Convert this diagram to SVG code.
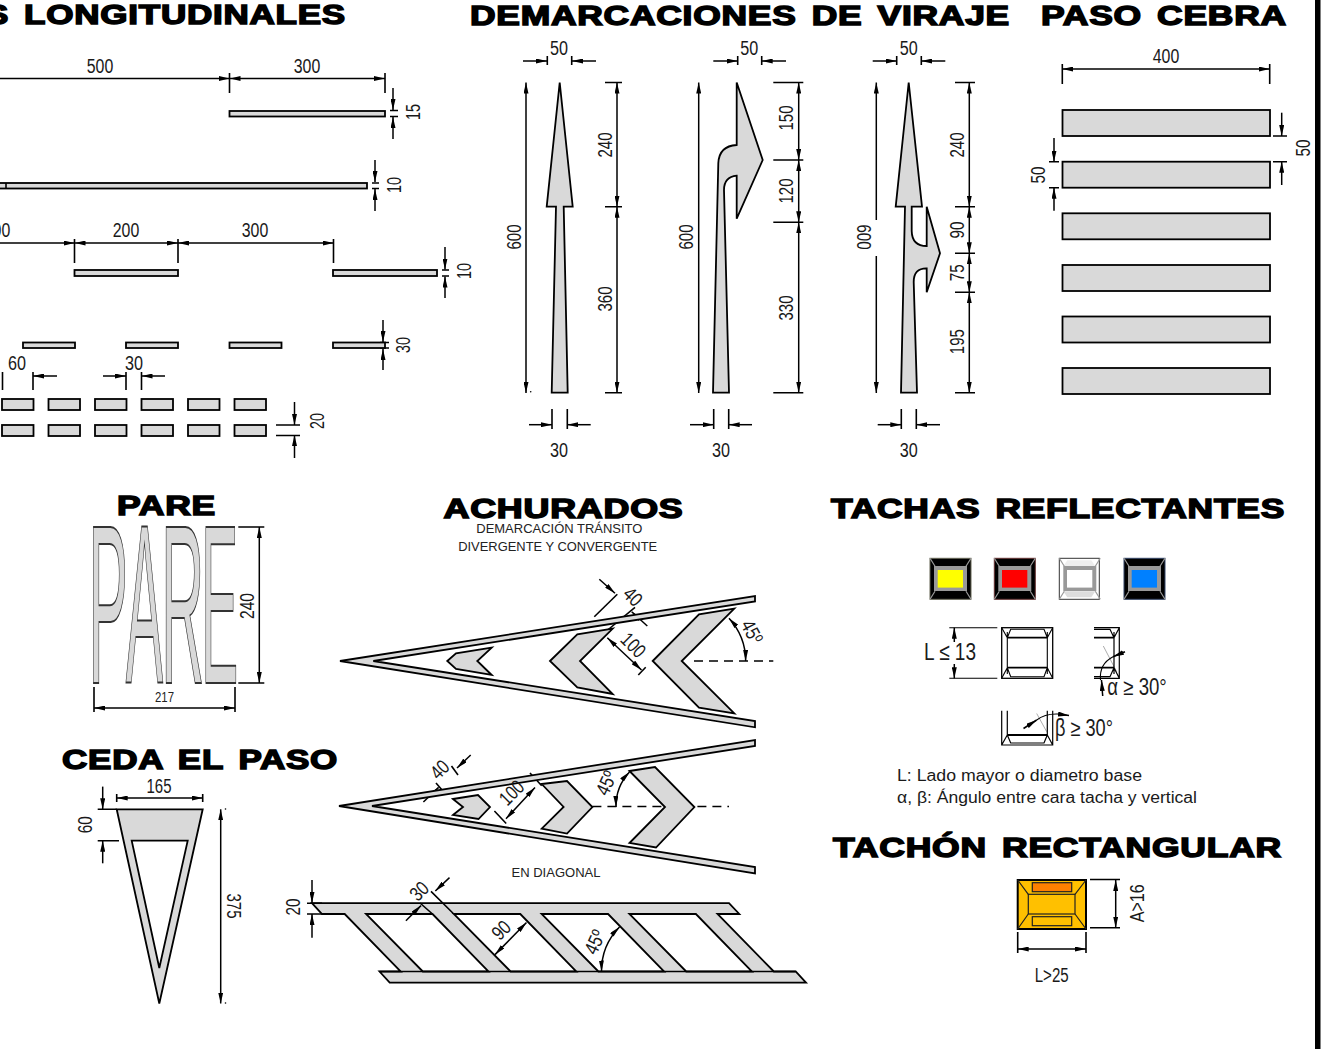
<svg xmlns="http://www.w3.org/2000/svg" width="1325" height="1049" viewBox="0 0 1325 1049">
<style>
text{font-family:"Liberation Sans",Arial,sans-serif;fill:#1a1a1a}
.t{font-size:27.5px;font-weight:700;fill:#000;stroke:#000;stroke-width:1.5px;word-spacing:3.500px;letter-spacing:.6px}
.d{font-size:20px;text-anchor:middle}
.s{font-size:14px;text-anchor:middle;fill:#222}
.g{fill:#d9d9d9;stroke:#000;stroke-width:1.8px;stroke-linejoin:miter}
.l{fill:none;stroke:#000;stroke-width:1.6px}
.m{fill:none;stroke:#000;stroke-width:1.5px;marker-end:url(#a)}
.b{fill:none;stroke:#000;stroke-width:1.5px;marker-end:url(#a);marker-start:url(#a)}
.dash{fill:none;stroke:#000;stroke-width:1.4px;stroke-dasharray:9 6}
.thin{fill:none;stroke:#888;stroke-width:.7px}
.w{fill:none;stroke:#000;stroke-width:1.1px}
.big{font-size:100px;fill:#d9d9d9;stroke:#333;stroke-width:.9px}
.rg{fill:#999}
</style>
<defs>
<marker id="a" viewBox="0 0 10 4" refX="10" refY="2" markerWidth="11" markerHeight="5" markerUnits="userSpaceOnUse" orient="auto-start-reverse" preserveAspectRatio="none"><path d="M0 0L10 2L0 4z" fill="#000"/></marker>
<g id="tc"><path d="M0 0L5 8M41 0L36 8M0 41L5 33M41 41L36 33" stroke="#999" stroke-width="1.2"/></g>
</defs>
<rect width="1325" height="1049" fill="#fff"/>
<rect x="1315" y="0" width="5.500" height="1049" fill="#000"/>

<g id="connectors">
<path class="m" d="M0 78.500H229.500"/><path class="b" d="M229.500 78.500H385"/><path class="l" d="M229.500 73V93M385 73V93"/>
<path class="m" d="M393 88V110"/><path class="m" d="M393 139V117"/><path class="l" d="M390 110.500H398M390 116.500H398"/>
<path class="m" d="M375 160V182"/><path class="m" d="M375 211V189"/><path class="l" d="M372 183H379M372 188.500H379"/>
<path class="m" d="M0 243H74.500"/><path class="b" d="M74.500 243H178"/><path class="b" d="M178 243H333.500"/><path class="l" d="M74.500 239V263M178 239V263M333.500 239V263"/>
<path class="m" d="M445 247V269.500"/><path class="m" d="M445 298V276.500"/><path class="l" d="M442 270H449M442 276H449"/>
<path class="m" d="M383 320V342"/><path class="m" d="M383 370V349"/><path class="l" d="M380 342.500H389M380 348H389"/>
<path class="m" d="M57 376H33"/><path class="m" d="M103 376H126"/><path class="m" d="M165 376H141.500"/><path class="l" d="M2.500 372V390M33 372V390M126 372V390M141.500 372V390"/>
<path class="m" d="M294.500 402V425"/><path class="m" d="M294.500 458V435"/><path class="l" d="M276 425H300M276 435.500H300"/>
<path class="m" d="M523 61H547"/><path class="m" d="M596 61H572"/><path class="l" d="M547.300 56V65M571.700 56V65"/>
<path class="b" d="M526 82.500V393"/><path class="b" d="M617 82.500V206.700"/><path class="b" d="M617 206.700V392.700"/><path class="l" d="M605 82.500H622M605 206.700H622M605 392.700H622"/>
<path class="m" d="M529 424.700H552"/><path class="m" d="M590.700 424.700H567.300"/><path class="l" d="M552 409V429M567.300 409V429"/>
<path class="m" d="M713.300 61H737.700"/><path class="m" d="M786 61H761.700"/><path class="l" d="M737.700 56V65M761.700 56V65"/>
<path class="b" d="M698.700 82.500V393"/><path class="b" d="M798.700 82.500V160"/><path class="b" d="M798.700 160V222.300"/><path class="b" d="M798.700 222.300V392.700"/><path class="l" d="M773.300 82.500H803.300M773.300 160H803.300M773.300 222.300H803.300M773.300 392.700H803.300"/>
<path class="m" d="M690 424.700H713.700"/><path class="m" d="M752 424.700H728.700"/><path class="l" d="M713.700 409V429M728.700 409V429"/>
<path class="m" d="M872.700 61H896.700"/><path class="m" d="M945.300 61H921.300"/><path class="l" d="M896.700 56V65M921.300 56V65"/>
<path class="m" d="M876.300 220V82.500"/><path class="m" d="M876.300 256V393"/><path class="b" d="M969.300 82.500V206.700"/><path class="b" d="M969.300 206.700V253.300"/><path class="b" d="M969.300 253.300V292.300"/><path class="b" d="M969.300 292.300V392.700"/><path class="l" d="M955 82.500H975M955 206.700H975M955 253.300H975M955 292.300H975M955 392.700H975"/>
<path class="m" d="M877.700 424.700H901.300"/><path class="m" d="M940 424.700H916.300"/><path class="l" d="M901.300 409V429M916.300 409V429"/>
<path class="b" d="M1062.300 69H1269.700"/><path class="l" d="M1062.300 64V84M1269.700 64V84"/>
<path class="m" d="M1281.700 112.700V136"/><path class="m" d="M1281.700 185V161.700"/><path class="l" d="M1273 136H1287M1273 161.700H1287"/>
<path class="m" d="M1054 138V161.700"/><path class="m" d="M1054 210.700V187.700"/><path class="l" d="M1049 161.700H1059M1049 187.700H1059"/>
<path class="b" d="M259.300 527V683"/><path class="l" d="M238.300 527H264.300M238.300 683H264.300"/>
<path class="b" d="M94 708H235"/><path class="l" d="M94 687V712M235 687V712"/>
<path class="b" d="M116.700 798H202.700"/><path class="l" d="M116.700 794V802M202.700 794V802"/>
<path class="m" d="M102.700 786.600V809.300"/><path class="m" d="M102.700 863.300V840.700"/><path class="l" d="M97.700 809.300H116.700M97.700 840.700H119"/>
<path class="b" d="M220.700 809.300V1003.500"/>
<circle cx="225.500" cy="809" r=".8"/><circle cx="225.500" cy="1003" r=".8"/><circle cx="530.700" cy="391.700" r=".8"/>
<path class="l" d="M594.300 616.700L617.300 594.300"/><path class="m" d="M599.300 579.300L615 593.300"/><path class="l" d="M607.700 630L635 607.300"/><path class="m" d="M647.300 626L631.700 611.700"/>
<path class="b" d="M607.300 637.700L641.500 670"/><path class="l" d="M638.300 675L645.700 667.300"/>
<path class="b" d="M729 618.300A64 64 0 0 1 745.700 661"/><path class="dash" d="M694 661H773.300"/>
<path class="m" d="M470.700 755L457 768"/><path class="l" d="M451.500 766L458 775"/><path class="m" d="M423.400 802L438.600 787.400"/><path class="l" d="M436 783L442.700 790.700"/>
<path class="b" d="M506 818.800L535 787.400"/><path class="l" d="M530 773L541.700 785.700M494.400 811L506.200 823.500"/>
<path class="b" d="M629.500 772A50 50 0 0 0 616 807"/><path class="dash" d="M592.400 806.500H729"/>
<path class="m" d="M312 880V903"/><path class="m" d="M312 937.700V914"/><path class="l" d="M307 903.200H322M307 914H322"/>
<path class="m" d="M954.300 642V627.700"/><path class="m" d="M954.300 664V678.300"/><path class="w" d="M949.300 627.700H997.300M949.300 678.300H997.300"/>
<path class="m" d="M1125 651.700L1113 656.700"/><path class="thin" d="M1103.300 646L1116.700 671.700M1036.700 713.500L1046.700 731.700"/>
<path class="w" d="M1113 656.700Q1099 664 1100.500 680"/><path class="m" d="M1102.700 696L1101.500 680"/>
<path class="m" d="M1023.500 728.500L1036.700 720"/><path class="w" d="M1036.700 720Q1045 713.500 1058 714"/><path class="m" d="M1058 714L1069 715.500"/>
<path class="b" d="M1115.700 880V927.700"/><path class="l" d="M1090 879.500H1120M1090 927.700H1120"/>
<path class="b" d="M1017.700 949H1086"/><path class="l" d="M1017.700 932V953M1086 932V953"/>
</g>

<g id="longitudinales">
<text class="t" x="-15" y="24" textLength="361" lengthAdjust="spacingAndGlyphs">S LONGITUDINALES</text>
<text class="d" x="100" y="73" textLength="26.500" lengthAdjust="spacingAndGlyphs">500</text>
<text class="d" x="307" y="73" textLength="26.500" lengthAdjust="spacingAndGlyphs">300</text>
<rect class="g" x="229.500" y="111" width="155.500" height="5.500"/>
<rect class="g" x="-3" y="183" width="370" height="5.500"/><path class="l" d="M6 183V188.500"/>
<rect class="g" x="74.500" y="270" width="103.500" height="6"/><rect class="g" x="333" y="270" width="104" height="6"/>
<rect class="g" x="23" y="342.500" width="52" height="5.500"/><rect class="g" x="126" y="342.500" width="52" height="5.500"/><rect class="g" x="229.500" y="342.500" width="52" height="5.500"/><rect class="g" x="333" y="342.500" width="52" height="5.500"/>
<text class="d" x="-3" y="237" textLength="26.500" lengthAdjust="spacingAndGlyphs">300</text>
<text class="d" x="126" y="237" textLength="26.500" lengthAdjust="spacingAndGlyphs">200</text>
<text class="d" x="255" y="237" textLength="26.500" lengthAdjust="spacingAndGlyphs">300</text>
<text class="d" x="17" y="370" textLength="18" lengthAdjust="spacingAndGlyphs">60</text>
<text class="d" x="134" y="370" textLength="18" lengthAdjust="spacingAndGlyphs">30</text>
<text class="d" transform="translate(419.700 112) rotate(-90)" textLength="16" lengthAdjust="spacingAndGlyphs">15</text>
<text class="d" transform="translate(401 185) rotate(-90)" textLength="16" lengthAdjust="spacingAndGlyphs">10</text>
<text class="d" transform="translate(471 271) rotate(-90)" textLength="16" lengthAdjust="spacingAndGlyphs">10</text>
<text class="d" transform="translate(409.500 345) rotate(-90)" textLength="16" lengthAdjust="spacingAndGlyphs">30</text>
<text class="d" transform="translate(324 421) rotate(-90)" textLength="16" lengthAdjust="spacingAndGlyphs">20</text>
<g id="tramos">
<rect class="g" x="2" y="399" width="31.500" height="11"/><rect class="g" x="48.500" y="399" width="31.500" height="11"/><rect class="g" x="95" y="399" width="31.500" height="11"/><rect class="g" x="141.500" y="399" width="31.500" height="11"/><rect class="g" x="188" y="399" width="31.500" height="11"/><rect class="g" x="234.500" y="399" width="31.500" height="11"/>
<rect class="g" x="2" y="425" width="31.500" height="11"/><rect class="g" x="48.500" y="425" width="31.500" height="11"/><rect class="g" x="95" y="425" width="31.500" height="11"/><rect class="g" x="141.500" y="425" width="31.500" height="11"/><rect class="g" x="188" y="425" width="31.500" height="11"/><rect class="g" x="234.500" y="425" width="31.500" height="11"/>
</g>
</g>

<g id="viraje">
<text class="t" x="470" y="25" textLength="540" lengthAdjust="spacingAndGlyphs">DEMARCACIONES DE VIRAJE</text>
<path id="flecha1" class="g" d="M559.700 82.500L572.700 206.700H563.700L567.700 392.700H551.700L556 206.700H546.700Z"/>
<path id="flecha2" class="g" d="M736.700 82.500L762.700 160L736.700 218.700V175.700Q724 177 724 190L729 392.700H713L718.300 163.300Q719 146 736.700 145Z"/>
<path id="flecha3" class="g" d="M908.700 82.500L922 206.700H911.700V231Q912 246 926.700 246V206.700L940 253.300L926.700 292.300V268.300Q913.700 268 913.700 282L917 392.700H901L905 206.700H895.700Z"/>
<text class="d" x="559" y="55" textLength="18" lengthAdjust="spacingAndGlyphs">50</text>
<text class="d" x="749.300" y="55" textLength="18" lengthAdjust="spacingAndGlyphs">50</text>
<text class="d" x="908.700" y="55" textLength="18" lengthAdjust="spacingAndGlyphs">50</text>
<text class="d" x="559" y="456.700" textLength="18" lengthAdjust="spacingAndGlyphs">30</text>
<text class="d" x="721" y="456.700" textLength="18" lengthAdjust="spacingAndGlyphs">30</text>
<text class="d" x="908.700" y="456.700" textLength="18" lengthAdjust="spacingAndGlyphs">30</text>
<text class="d" transform="translate(521 237) rotate(-90)" textLength="25" lengthAdjust="spacingAndGlyphs">600</text>
<text class="d" transform="translate(693 237) rotate(-90)" textLength="25" lengthAdjust="spacingAndGlyphs">600</text>
<text class="d" transform="translate(857 237) rotate(90)" textLength="25" lengthAdjust="spacingAndGlyphs">600</text>
<text class="d" transform="translate(611.500 145) rotate(-90)" textLength="25" lengthAdjust="spacingAndGlyphs">240</text>
<text class="d" transform="translate(611.500 299) rotate(-90)" textLength="25" lengthAdjust="spacingAndGlyphs">360</text>
<text class="d" transform="translate(793 118) rotate(-90)" textLength="25" lengthAdjust="spacingAndGlyphs">150</text>
<text class="d" transform="translate(793 191) rotate(-90)" textLength="25" lengthAdjust="spacingAndGlyphs">120</text>
<text class="d" transform="translate(793 308) rotate(-90)" textLength="25" lengthAdjust="spacingAndGlyphs">330</text>
<text class="d" transform="translate(963.500 145) rotate(-90)" textLength="25" lengthAdjust="spacingAndGlyphs">240</text>
<text class="d" transform="translate(963.500 230) rotate(-90)" textLength="17" lengthAdjust="spacingAndGlyphs">90</text>
<text class="d" transform="translate(963.500 272.700) rotate(-90)" textLength="17" lengthAdjust="spacingAndGlyphs">75</text>
<text class="d" transform="translate(963.500 341.700) rotate(-90)" textLength="25" lengthAdjust="spacingAndGlyphs">195</text>
</g>

<g id="cebra">
<text class="t" x="1041" y="25" textLength="246" lengthAdjust="spacingAndGlyphs">PASO CEBRA</text>
<text class="d" x="1166" y="63" textLength="26.500" lengthAdjust="spacingAndGlyphs">400</text>
<rect class="g" x="1062.500" y="110" width="207.500" height="26"/>
<rect class="g" x="1062.500" y="161.700" width="207.500" height="26"/>
<rect class="g" x="1062.500" y="213.300" width="207.500" height="26"/>
<rect class="g" x="1062.500" y="265" width="207.500" height="26"/>
<rect class="g" x="1062.500" y="316.500" width="207.500" height="26"/>
<rect class="g" x="1062.500" y="368" width="207.500" height="26"/>
<text class="d" transform="translate(1310 148) rotate(-90)" textLength="17" lengthAdjust="spacingAndGlyphs">50</text>
<text class="d" transform="translate(1045 175) rotate(-90)" textLength="17" lengthAdjust="spacingAndGlyphs">50</text>
</g>

<g id="pare">
<text class="t" x="117" y="515" textLength="99" lengthAdjust="spacingAndGlyphs">PARE</text>
<text class="big" transform="translate(88.600 683) scale(.59 2.26)">P</text>
<text class="big" transform="translate(125.700 683) scale(.56 2.26)">A</text>
<text class="big" transform="translate(161.200 683) scale(.595 2.26)">R</text>
<text class="big" transform="translate(201.300 683) scale(.555 2.26)">E</text>
<text class="d" transform="translate(254 606) rotate(-90)" textLength="26" lengthAdjust="spacingAndGlyphs">240</text>
<text class="s" x="164.500" y="702" textLength="19" lengthAdjust="spacingAndGlyphs">217</text>
</g>

<g id="ceda">
<text class="t" x="62" y="769" textLength="276" lengthAdjust="spacingAndGlyphs">CEDA EL PASO</text>
<path class="g" fill-rule="evenodd" d="M116.700 809.300H202.700L159.300 1003.500ZM131.700 840.700H187.700L159.300 968Z"/>
<text class="d" x="159" y="793.400" textLength="25" lengthAdjust="spacingAndGlyphs">165</text>
<text class="d" transform="translate(91.500 824.800) rotate(-90)" textLength="17" lengthAdjust="spacingAndGlyphs">60</text>
<text class="d" transform="translate(226.500 906) rotate(90)" textLength="25" lengthAdjust="spacingAndGlyphs">375</text>
</g>

<g id="achurados">
<text class="t" x="443.500" y="518" textLength="240" lengthAdjust="spacingAndGlyphs">ACHURADOS</text>
<text class="s" x="559.300" y="533.300" textLength="166" lengthAdjust="spacingAndGlyphs" style="font-size:13px">DEMARCACIÓN TRÁNSITO</text>
<text class="s" x="557.700" y="551" textLength="199" lengthAdjust="spacingAndGlyphs" style="font-size:13px">DIVERGENTE Y CONVERGENTE</text>
<path class="g" d="M340 661L755 596V601.500L373.300 661L755 721V727.300Z"/>
<path class="g" d="M447.300 661L456 653.300L491.700 647.700L477.300 661L491.700 675L456 669Z"/>
<path class="g" d="M550 661L577.300 634.300L612.700 628.700L580 661L612.700 694L577.300 687.300Z"/>
<path class="g" d="M652.700 661L699 614.300L734.300 608.700L681.700 661L734.300 713.300L699 707.700Z"/>
<text class="d" transform="translate(628 601.500) rotate(45)" textLength="18" lengthAdjust="spacingAndGlyphs">40</text>
<text class="d" transform="translate(628.500 650) rotate(45)" textLength="26" lengthAdjust="spacingAndGlyphs">100</text>
<text class="d" transform="translate(746 635) rotate(62)" textLength="24" lengthAdjust="spacingAndGlyphs">45º</text>
<path class="g" d="M339 806L755 740V746L372 806L755 867V873.500Z"/>
<path class="g" d="M453 799L478 795L490 807L478.500 819L453 815L463 807Z"/>
<path class="g" d="M541.700 784L567 781L592.400 807L567 833.600L541.700 828.600L563.600 807Z"/>
<path class="g" d="M629.500 771L655 767L694.400 807L656 847.500L629.500 843L665 807Z"/>
<text class="d" transform="translate(444.500 774.500) rotate(-45)" textLength="18" lengthAdjust="spacingAndGlyphs">40</text>
<text class="d" transform="translate(516.500 797.500) rotate(-45)" textLength="26" lengthAdjust="spacingAndGlyphs">100</text>
<text class="d" transform="translate(612.500 786) rotate(-65)" textLength="24" lengthAdjust="spacingAndGlyphs">45º</text>
<text class="s" x="556" y="876.500" textLength="89" lengthAdjust="spacingAndGlyphs" style="font-size:13px">EN DIAGONAL</text>
</g>

<g id="diagonal">
<path class="g" fill-rule="evenodd" d="M312 903.200H729L739.300 914H717.500L773.800 971.500H795.700L806 982.600H389.700L379.500 971.500H400.800L344.700 914H322ZM366 914H432.500L488.600 971.500H422.800ZM453.800 914H520.300L576.400 971.500H510.600ZM541.600 914H608.100L664.200 971.500H598.400ZM629.400 914H695.900L752 971.500H686.200Z"/>
<path class="l" d="M379.500 971.500H795.700"/>
<path class="l" d="M431 891.400L453.800 914M420 903L432.500 914"/>
<path class="m" d="M449.500 877.600L435.300 891"/><path class="m" d="M405.900 920.800L421 905.600"/>
<path class="b" d="M495 954.600L526.500 922.500"/>
<path class="b" d="M619.500 927A63 63 0 0 0 601.500 971.500"/>
<text class="d" transform="translate(299.500 907) rotate(-90)" textLength="17" lengthAdjust="spacingAndGlyphs">20</text>
<text class="d" transform="translate(424 896) rotate(-45)" textLength="18" lengthAdjust="spacingAndGlyphs">30</text>
<text class="d" transform="translate(506 935) rotate(-45)" textLength="18" lengthAdjust="spacingAndGlyphs">90</text>
<text class="d" transform="translate(601 945) rotate(-65)" textLength="24" lengthAdjust="spacingAndGlyphs">45º</text>
</g>

<g id="tachas">
<text class="t" x="831" y="518" textLength="454" lengthAdjust="spacingAndGlyphs">TACHAS REFLECTANTES</text>
<g id="tacha-amarilla" transform="translate(930 558.300)"><rect width="41" height="41" fill="#000" stroke="#665"/><use href="#tc"/><rect class="rg" x="4" y="7.700" width="33" height="25"/><rect x="7.700" y="11.700" width="25.300" height="17.600" fill="#ff0"/></g>
<g id="tacha-roja" transform="translate(994.300 558.300)"><rect width="41" height="41" fill="#000" stroke="#633"/><use href="#tc"/><rect class="rg" x="4" y="7.700" width="33" height="25"/><rect x="7.700" y="11.700" width="25.300" height="17.600" fill="#f00"/></g>
<g id="tacha-blanca" transform="translate(1059.300 558.300)"><rect width="40" height="41" fill="#fff" stroke="#333"/><path d="M4 8L8 2H32L36 8Z" fill="#eee"/><path d="M4 33L8 39H32L36 33Z" fill="#ddd"/><use href="#tc"/><rect class="rg" x="4" y="7.700" width="33" height="25"/><rect x="7.700" y="11.700" width="25.300" height="17.600" fill="#fff"/></g>
<g id="tacha-azul" transform="translate(1124 558.300)"><rect width="41" height="41" fill="#000" stroke="#346"/><use href="#tc"/><rect class="rg" x="4" y="7.700" width="33" height="25"/><rect x="7.700" y="11.700" width="25.300" height="17.600" fill="#0080ff"/></g>
<g id="frente">
<rect class="w" x="1001.700" y="627.700" width="51" height="50.600" style="stroke-width:1.300"/>
<path class="w" d="M1007.300 632V674M1047.300 632V674M1001.700 627.700L1007.300 637.700M1052.700 627.700L1047.300 637.700M1001.700 678.300L1007.300 667.700M1052.700 678.300L1047.300 667.700M1007.300 637.700L1010.700 629.300H1044L1047.300 637.700M1007.300 667.700L1010.700 676.700H1044L1047.300 667.700"/>
<path class="l" d="M1007.300 637.700H1047.300M1007.300 667.700H1047.300" style="stroke-width:1.800"/>
</g>
<g id="lado">
<path class="w" d="M1094 627.700H1119.300V678.300H1094M1114 632V674M1119.300 627.700L1114 637.700M1119.300 678.300L1114 667.700M1114 637.700L1110 629.300H1094M1114 667.700L1110 676.700H1094" style="stroke-width:1.200"/>
<path class="l" d="M1094 637.700H1114M1094 667.700H1114" style="stroke-width:1.800"/>
</g>
<g id="base">
<path class="w" d="M1001.700 710.700V745H1052.700V710.700M1007.300 710.700V735M1047.300 710.700V735M1001.700 745L1007.300 735M1052.700 745L1047.300 735M1007.300 735L1010.700 743H1044L1047.300 735" style="stroke-width:1.200"/>
<path class="l" d="M1007.300 735H1047.300" style="stroke-width:1.800"/>
</g>
<text class="d" x="950" y="660" textLength="52" lengthAdjust="spacingAndGlyphs" style="font-size:24px">L ≤ 13</text>
<text x="1107.300" y="694.500" textLength="59.500" lengthAdjust="spacingAndGlyphs" style="font-size:23px">α ≥ 30°</text>
<text x="1055" y="735.500" textLength="58" lengthAdjust="spacingAndGlyphs" style="font-size:23px">β ≥ 30°</text>
<text x="897" y="781" textLength="245" lengthAdjust="spacingAndGlyphs" style="font-size:16px">L: Lado mayor o diametro base</text>
<text x="897" y="803" textLength="300" lengthAdjust="spacingAndGlyphs" style="font-size:16px">α, β: Ángulo entre cara tacha y vertical</text>
</g>

<g id="tachon">
<text class="t" x="833" y="857" textLength="449" lengthAdjust="spacingAndGlyphs">TACHÓN RECTANGULAR</text>
<rect x="1017.700" y="880" width="68.300" height="49" fill="#ffc000" stroke="#000" stroke-width="2"/>
<rect x="1028.300" y="894.300" width="46.700" height="19.700" fill="#ffc000" stroke="#222" stroke-width="1.200"/>
<path class="w" d="M1017.700 880L1028.300 894.300M1086 880L1075 894.300M1017.700 929L1028.300 914M1086 929L1075 914" style="stroke:#222;stroke-width:1.200"/>
<rect x="1032.300" y="882.700" width="39.400" height="9" fill="#ff8000" stroke="#222" stroke-width="1.200"/>
<rect x="1032.300" y="916.700" width="39.400" height="9" fill="#ffc000" stroke="#222" stroke-width="1.200"/>
<text class="d" transform="translate(1144 903.300) rotate(-90)" textLength="38" lengthAdjust="spacingAndGlyphs">A&gt;16</text>
<text class="d" x="1051.700" y="981.700" textLength="34" lengthAdjust="spacingAndGlyphs">L&gt;25</text>
</g>
</svg>
